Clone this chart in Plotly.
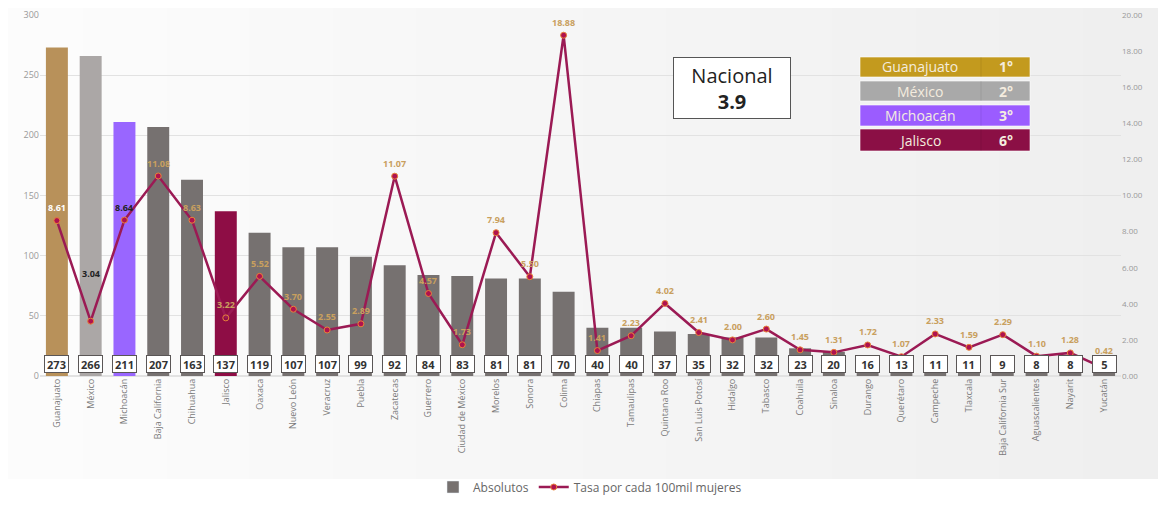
import plotly.graph_objects as go

estados = ["Guanajuato", "México", "Michoacán", "Baja California", "Chihuahua", "Jalisco",
           "Oaxaca", "Nuevo León", "Veracruz", "Puebla", "Zacatecas", "Guerrero",
           "Ciudad de México", "Morelos", "Sonora", "Colima", "Chiapas", "Tamaulipas",
           "Quintana Roo", "San Luis Potosí", "Hidalgo", "Tabasco", "Coahuila", "Sinaloa",
           "Durango", "Querétaro", "Campeche", "Tlaxcala", "Baja California Sur",
           "Aguascalientes", "Nayarit", "Yucatán"]
absolutos = [273, 266, 211, 207, 163, 137, 119, 107, 107, 99, 92, 84, 83, 81, 81, 70,
             40, 40, 37, 35, 32, 32, 23, 20, 16, 13, 11, 11, 9, 8, 8, 5]
tasa = [8.61, 3.04, 8.64, 11.08, 8.63, 3.22, 5.52, 3.70, 2.55, 2.89, 11.07, 4.57,
        1.73, 7.94, 5.50, 18.88, 1.41, 2.23, 4.02, 2.41, 2.00, 2.60, 1.45, 1.31,
        1.72, 1.07, 2.33, 1.59, 2.29, 1.10, 1.28, 0.42]
nacional = 3.9
ranking_nombres = ["Guanajuato", "México", "Michoacán", "Jalisco"]
ranking_pos = ["1°", "2°", "3°", "6°"]
left_ticks = [0, 50, 100, 150, 200, 250, 300]
right_ticks = [0, 2, 4, 6, 8, 10, 12, 14, 16, 18, 20]

FONT = "Open Sans"
highlight = {"Guanajuato": "#b8915a", "México": "#aba7a6", "Michoacán": "#9966ff", "Jalisco": "#8e0d45"}
BAR_GRAY = "#767170"
bar_colors = [highlight.get(e, BAR_GRAY) for e in estados]
rank_colors = ["#c39a1e", "#a9a9a9", "#9b5cff", "#8b0f45"]

# page body has an 8px margin: figure placed at (8,8)
OFF = 8
W, H = 1150, 490
L, T = 40 - OFF, 15 - OFF
B = OFF + H - 376
R = OFF + W - 1121
PW, PH = 1121 - 40, 376 - 15

fig = go.Figure()

# background gradient stripes (light to slightly darker gray)
n_str = 14
x_start = -40 / PW
x_end = (1166 - 40) / PW
for i in range(n_str):
    g = int(252 - (252 - 239) * i / (n_str - 1))
    fig.add_shape(type="rect", xref="paper", yref="paper",
                  x0=x_start + i * (x_end - x_start) / n_str,
                  x1=x_start + (i + 1) * (x_end - x_start) / n_str + 0.001,
                  y0=-(479 - 376) / PH, y1=1.1, fillcolor=f"rgb({g},{g},{g})",
                  line_width=0, layer="below")

fig.add_trace(go.Bar(x=estados, y=absolutos, marker=dict(color=bar_colors, line_width=0),
                     width=0.65, name="Absolutos", yaxis="y", showlegend=False))
# legend entry for bars (gray swatch)
fig.add_trace(go.Bar(x=[estados[0]], y=[None], marker=dict(color=BAR_GRAY), name="Absolutos",
                     yaxis="y", showlegend=True, hoverinfo="skip"))

marker_fill = ["rgba(0,0,0,0)" if e == "Jalisco" else "#b0124e" for e in estados]
fig.add_trace(go.Scatter(x=estados, y=tasa, yaxis="y2", mode="lines+markers",
                         name="Tasa por cada 100mil mujeres",
                         line=dict(color="#9b1a54", width=2.5),
                         marker=dict(size=6, color=marker_fill, line=dict(color="#e8833a", width=1))))

# value boxes for absolutes
for e, v in zip(estados, absolutos):
    fig.add_annotation(x=e, y=10, yref="y", text=f"<b>{v}</b>", showarrow=False,
                       xanchor="center", yanchor="middle",
                       font=dict(family=FONT, size=11, color="#333333"),
                       bgcolor="white", bordercolor="#5a5656", borderwidth=1, borderpad=1,
                       width=21, height=14)

# rate labels
for e, t in zip(estados, tasa):
    col = "#c9a05e"
    shift = 13
    if e == "Guanajuato":
        col = "#ffffff"
    elif e in ("México", "Michoacán"):
        col = "#222222"
    if e == "México":
        shift = 48
    if e == "Yucatán":
        shift = 18
    fig.add_annotation(x=e, y=t, yref="y2", text=f"<b>{t:.2f}</b>", showarrow=False,
                       xanchor="center", yanchor="middle",
                       yshift=shift, font=dict(family=FONT, size=9, color=col))

px_to_x = lambda p: (p - 40) / PW
py_to_y = lambda p: (376 - p) / PH

# Nacional box
fig.add_annotation(xref="paper", yref="paper", x=px_to_x(732), y=py_to_y(88),
                   xanchor="center", yanchor="middle",
                   text=f"Nacional<br><b>{nacional}</b>", showarrow=False,
                   font=dict(family=FONT, size=20, color="#222222"),
                   bgcolor="white", bordercolor="#555555", borderwidth=1,
                   width=112, height=56, borderpad=2)

# ranking boxes
rows = [(57, 77), (81, 101), (105, 126), (129, 151)]
for (t0, t1), nm, pos, c in zip(rows, ranking_nombres, ranking_pos, rank_colors):
    fig.add_shape(type="rect", xref="paper", yref="paper",
                  x0=px_to_x(860), x1=px_to_x(1030), y0=py_to_y(t1), y1=py_to_y(t0),
                  fillcolor=c, line=dict(color="rgba(255,255,255,0.6)", width=1))
    fig.add_shape(type="line", xref="paper", yref="paper",
                  x0=px_to_x(981), x1=px_to_x(981), y0=py_to_y(t1), y1=py_to_y(t0),
                  line=dict(color="rgba(0,0,0,0.08)", width=1))
    fig.add_annotation(xref="paper", yref="paper", x=px_to_x(920), y=py_to_y((t0 + t1) / 2),
                       xanchor="center", yanchor="middle",
                       text=nm, showarrow=False, font=dict(family=FONT, size=14, color="#f4ecdf"))
    fig.add_annotation(xref="paper", yref="paper", x=px_to_x(1006), y=py_to_y((t0 + t1) / 2),
                       xanchor="center", yanchor="middle",
                       text=f"<b>{pos}</b>", showarrow=False, font=dict(family=FONT, size=14, color="#f4ecdf"))

fig.update_layout(
    width=W, height=H,
    margin=dict(l=L, r=R, t=T, b=B, autoexpand=False),
    paper_bgcolor="white", plot_bgcolor="rgba(0,0,0,0)",
    font=dict(family=FONT, color="#888888"),
    barmode="overlay",
    showlegend=True,
    legend=dict(orientation="h", x=px_to_x(590), xanchor="center", y=-(487 - 376) / PH,
                yanchor="middle", font=dict(family=FONT, size=12, color="#666666"),
                bgcolor="rgba(0,0,0,0)", traceorder="normal", tracegroupgap=0),
    xaxis=dict(range=[-0.5, len(estados) - 0.5], tickangle=-90,
               tickfont=dict(family=FONT, size=9, color="#7a7a7a"),
               showgrid=False, showline=False, ticks="", automargin=False),
    yaxis=dict(range=[0, 300], tickvals=left_ticks, showgrid=True, gridcolor="#e2e2e2",
               gridwidth=1, zeroline=True, zerolinecolor="#e2e2e2",
               tickfont=dict(family=FONT, size=9, color="#999999"), automargin=False),
    yaxis2=dict(range=[0, 20], tickvals=right_ticks, ticktext=[f"{v:.2f}" for v in right_ticks],
                overlaying="y", side="right", showgrid=False, zeroline=False,
                tickfont=dict(family=FONT, size=8, color="#999999"), automargin=False),
)

fig.write_html("out.html")
